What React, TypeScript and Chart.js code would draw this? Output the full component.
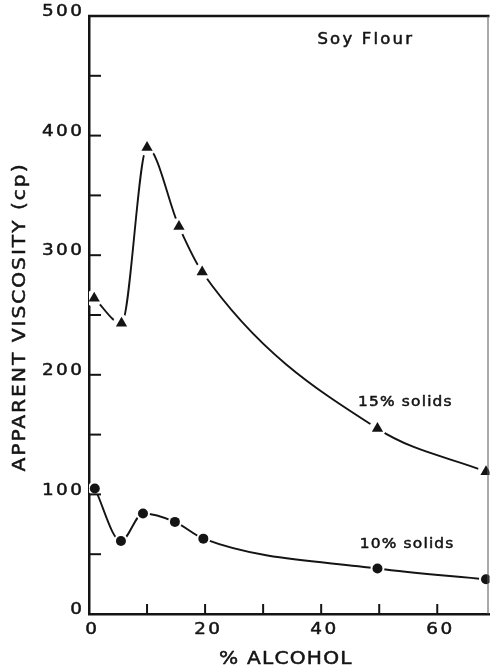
import { useEffect, useRef } from "react";
import { Chart, registerables } from "chart.js";

Chart.register(...registerables);

// Apparent viscosity (cp) of soy flour dispersions versus alcohol content (%)
const alcohol15 = [0.9, 5.6, 10, 15.5, 19.5, 49.7, 68.4];
const viscosity15 = [264, 243, 390, 324, 286, 155, 119];

const alcohol10 = [1, 5.5, 9.3, 14.8, 19.7, 49.7, 68.4];
const viscosity10 = [105, 61, 84, 77, 63, 38, 29];

const yTickLabels = ["0", "100", "200", "300", "400", "500"];
const xTickLabels = ["0", "20", "40", "60"];

const yTitle = "APPARENT VISCOSITY (cp)";
const xTitle = "% ALCOHOL";

// Text notes inside the plot, anchored in axis units
const noteText = ["Soy Flour", "15% solids", "10% solids"];
const noteX = [47.5, 54.4, 54.7];
const noteY = [480, 177, 58];
const noteSize = [15, 14, 14];
const noteSpacing = [2.2, 1.2, 1.2];

const INK = "#141414";
const FONT = "'DejaVu Sans', sans-serif";

const points = (xs: number[], ys: number[]) => xs.map((x, i) => ({ x, y: ys[i] }));

// Text drawn slightly widened and thickened, with optional extra tracking
function drawText(
  ctx: CanvasRenderingContext2D,
  text: string,
  x: number,
  y: number,
  spacing: number,
  stretch: number,
  align: "left" | "center" | "right"
) {
  (ctx as any).letterSpacing = "0px";
  const w = ctx.measureText(text).width * stretch + spacing * (text.length - 1);
  const sx = align === "center" ? x - w / 2 : align === "right" ? x - w : x;
  ctx.save();
  ctx.translate(sx, y);
  ctx.scale(stretch, 1);
  (ctx as any).letterSpacing = spacing / stretch + "px";
  ctx.textAlign = "left";
  ctx.lineWidth = 0.5;
  ctx.strokeStyle = INK;
  ctx.lineJoin = "round";
  ctx.fillText(text, 0, 0);
  ctx.strokeText(text, 0, 0);
  ctx.restore();
}

const frameAndText = {
  id: "frameAndText",
  afterDraw(chart: any) {
    const { ctx, chartArea: a, scales } = chart;
    const xs = scales.x;
    const ys = scales.y;
    const seg = (x1: number, y1: number, x2: number, y2: number) => {
      ctx.beginPath();
      ctx.moveTo(x1, y1);
      ctx.lineTo(x2, y2);
      ctx.stroke();
    };
    ctx.save();
    ctx.lineCap = "butt";

    // top edge of the frame
    ctx.strokeStyle = INK;
    ctx.lineWidth = 2.5;
    seg(a.left - 1, a.top, a.right, a.top);
    // right edge (thin)
    ctx.strokeStyle = "#555";
    ctx.lineWidth = 1;
    seg(a.right - 1.5, a.top, a.right - 1.5, a.bottom);

    // inward tick marks
    ctx.strokeStyle = INK;
    ctx.lineWidth = 2;
    ys.ticks.forEach((t: any) => {
      if (t.value <= 0 || t.value >= 500) return;
      const py = ys.getPixelForValue(t.value);
      seg(a.left, py, a.left + 12, py);
    });
    xs.ticks.forEach((t: any) => {
      if (t.value <= 0 || t.value % 10 !== 0) return;
      const px = xs.getPixelForValue(t.value);
      seg(px, a.bottom, px, a.bottom - 10);
    });

    ctx.fillStyle = INK;
    ctx.textBaseline = "middle";

    // tick labels
    ctx.font = `16px ${FONT}`;
    yTickLabels.forEach((lbl) => {
      const py = ys.getPixelForValue(Number(lbl));
      drawText(ctx, lbl, a.left - 7, py - 4, 2.5, 1.15, "right");
    });
    xTickLabels.forEach((lbl) => {
      const px = xs.getPixelForValue(Number(lbl));
      drawText(ctx, lbl, px + 2, a.bottom + 16, 2.5, 1.15, "center");
    });

    // axis titles
    ctx.font = `18px ${FONT}`;
    drawText(ctx, xTitle, (a.left + a.right) / 2 - 4, a.bottom + 45, 1.2, 1.12, "center");
    ctx.save();
    ctx.translate(20, (a.top + a.bottom) / 2 + 3);
    ctx.rotate(-Math.PI / 2);
    drawText(ctx, yTitle, 0, 0, 2, 1.12, "center");
    ctx.restore();

    // notes
    noteText.forEach((txt, i) => {
      ctx.font = `${noteSize[i]}px ${FONT}`;
      drawText(
        ctx,
        txt,
        xs.getPixelForValue(noteX[i]),
        ys.getPixelForValue(noteY[i]),
        noteSpacing[i],
        1.1,
        "center"
      );
    });

    ctx.restore();
  },
};

const series = [
  { xs: alcohol15, ys: viscosity15, style: "triangle", r: 6.5, halo: 8.5 },
  { xs: alcohol10, ys: viscosity10, style: "circle", r: 5, halo: 7 },
];

export default function App() {
  const ref = useRef<HTMLCanvasElement>(null);

  useEffect(() => {
    const datasets: any[] = [];
    series.forEach((s) => {
      const data = points(s.xs, s.ys);
      // smooth curve through the measurements
      datasets.push({
        data,
        showLine: true,
        borderColor: INK,
        borderWidth: 1.9,
        pointRadius: 0,
        cubicInterpolationMode: "monotone",
        fill: false,
        order: 2,
      });
      // white halo that breaks the curve around each marker
      datasets.push({
        data,
        showLine: false,
        pointStyle: "circle",
        pointRadius: s.halo,
        pointBackgroundColor: "#ffffff",
        pointBorderWidth: 0,
        order: 1,
      });
      // markers
      datasets.push({
        data,
        showLine: false,
        pointStyle: s.style,
        pointRadius: s.r,
        pointBackgroundColor: INK,
        pointBorderColor: INK,
        pointBorderWidth: 0,
        order: 0,
      });
    });

    const chart = new Chart(ref.current as HTMLCanvasElement, {
      type: "scatter",
      data: { datasets },
      options: {
        animation: false,
        responsive: false,
        devicePixelRatio: 1,
        events: [],
        layout: { padding: { left: 89, top: 16, right: 0, bottom: 58 } },
        plugins: { legend: { display: false }, tooltip: { enabled: false } },
        scales: {
          x: {
            type: "linear",
            min: 0,
            max: 69,
            ticks: { display: false, stepSize: 10 },
            grid: { display: false },
            border: { display: true, color: INK, width: 2.5 },
            afterFit: (s: any) => {
              s.height = 0;
            },
          },
          y: {
            type: "linear",
            min: 0,
            max: 500,
            ticks: { display: false, stepSize: 50 },
            grid: { display: false },
            border: { display: true, color: INK, width: 2.5 },
            afterFit: (s: any) => {
              s.width = 0;
            },
          },
        },
      } as any,
      plugins: [frameAndText],
    });
    return () => chart.destroy();
  }, []);

  return (
    <div
      style={{
        position: "fixed",
        left: 0,
        top: 0,
        width: 498,
        height: 672,
        overflow: "hidden",
        background: "#fff",
      }}
    >
      <canvas ref={ref} width={498} height={672} style={{ display: "block" }} />
    </div>
  );
}
